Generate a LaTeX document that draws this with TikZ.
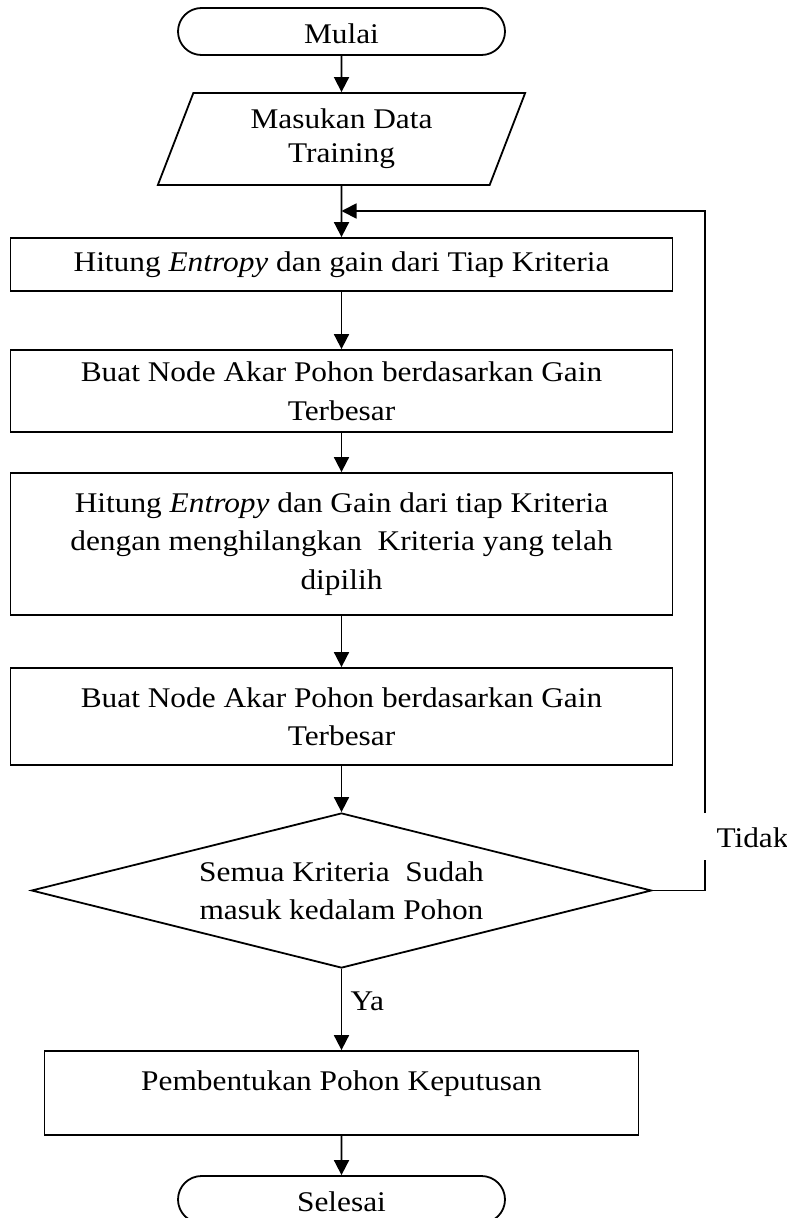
\documentclass[tikz,border=0pt]{standalone}
\usepackage{fontspec}
\setmainfont{Liberation Serif}[FakeStretch=1.1]
\usetikzlibrary{shapes.geometric,shapes.misc,arrows.meta}
\begin{document}
\begin{tikzpicture}[x=1pt,y=-1pt,
  every node/.style={font=\fontsize{28.5}{38.5}\selectfont},
  box/.style={draw, line width=1.8pt, rectangle, minimum width=662pt, inner sep=0pt, align=center},
  term/.style={draw, line width=1.8pt, rounded rectangle, minimum width=327pt, minimum height=47pt, inner sep=0pt, text height=24pt, text depth=0pt},
  dec/.style={draw, line width=1.8pt, diamond, aspect=4, minimum width=620pt, minimum height=155pt, inner sep=0pt, align=center},
  io/.style={draw, line width=1.8pt, trapezium, trapezium left angle=70, trapezium right angle=110, trapezium stretches=true, minimum width=368pt, minimum height=92pt, inner sep=0pt, align=center},
  flow/.style={line width=1.8pt, -{Triangle[width=15pt,length=15pt]}},
  conn/.style={line width=1.8pt}]
\clip (0,0) rectangle (787,1218);
\node[term] (start) at (341.5,31.5) {Mulai};
\node[io, font=\fontsize{28.5}{34}\selectfont] (inp) at (341.5,139) {Masukan Data\\Training};
\node[box, minimum height=53pt] (b1) at (341.5,264.5) {Hitung \textit{Entropy} dan gain dari Tiap Kriteria};
\node[box, minimum height=82pt] (b2) at (341.5,391) {Buat Node Akar Pohon berdasarkan Gain\\Terbesar};
\node[box, minimum height=142pt] (b3) at (341.5,544) {Hitung \textit{Entropy} dan Gain dari tiap Kriteria\\dengan menghilangkan\ \ Kriteria yang telah\\dipilih};
\node[box, minimum height=97pt] (b4) at (341.5,716.5) {Buat Node Akar Pohon berdasarkan Gain\\Terbesar};
\node[dec] (dec) at (341.5,890.5) {Semua Kriteria\ \ Sudah\\masuk kedalam Pohon};
\node[box, minimum width=594pt, minimum height=84pt, text height=19.5pt, text depth=25.5pt] (b5) at (341.5,1093) {Pembentukan Pohon Keputusan};
\node[term] (end) at (341.5,1199.5) {Selesai};
\node[anchor=base west] (tidak) at (713,847) {Tidak};
\node[anchor=base west] (ya) at (347,1010) {Ya};
\coordinate (join) at (341.5,211);
\coordinate (gb) at (705,860);
\coordinate (gt) at (705,813);
\draw[flow] (start) -- (inp);
\draw[flow] (inp) -- (b1);
\draw[flow] (b1) -- (b2);
\draw[flow] (b2) -- (b3);
\draw[flow] (b3) -- (b4);
\draw[flow] (b4) -- (dec);
\draw[conn] (dec.east) -| (gb);
\draw[flow] (gt) |- (join);
\draw[flow] (dec) -- (b5);
\draw[flow] (b5) -- (end);
\end{tikzpicture}
\end{document}
